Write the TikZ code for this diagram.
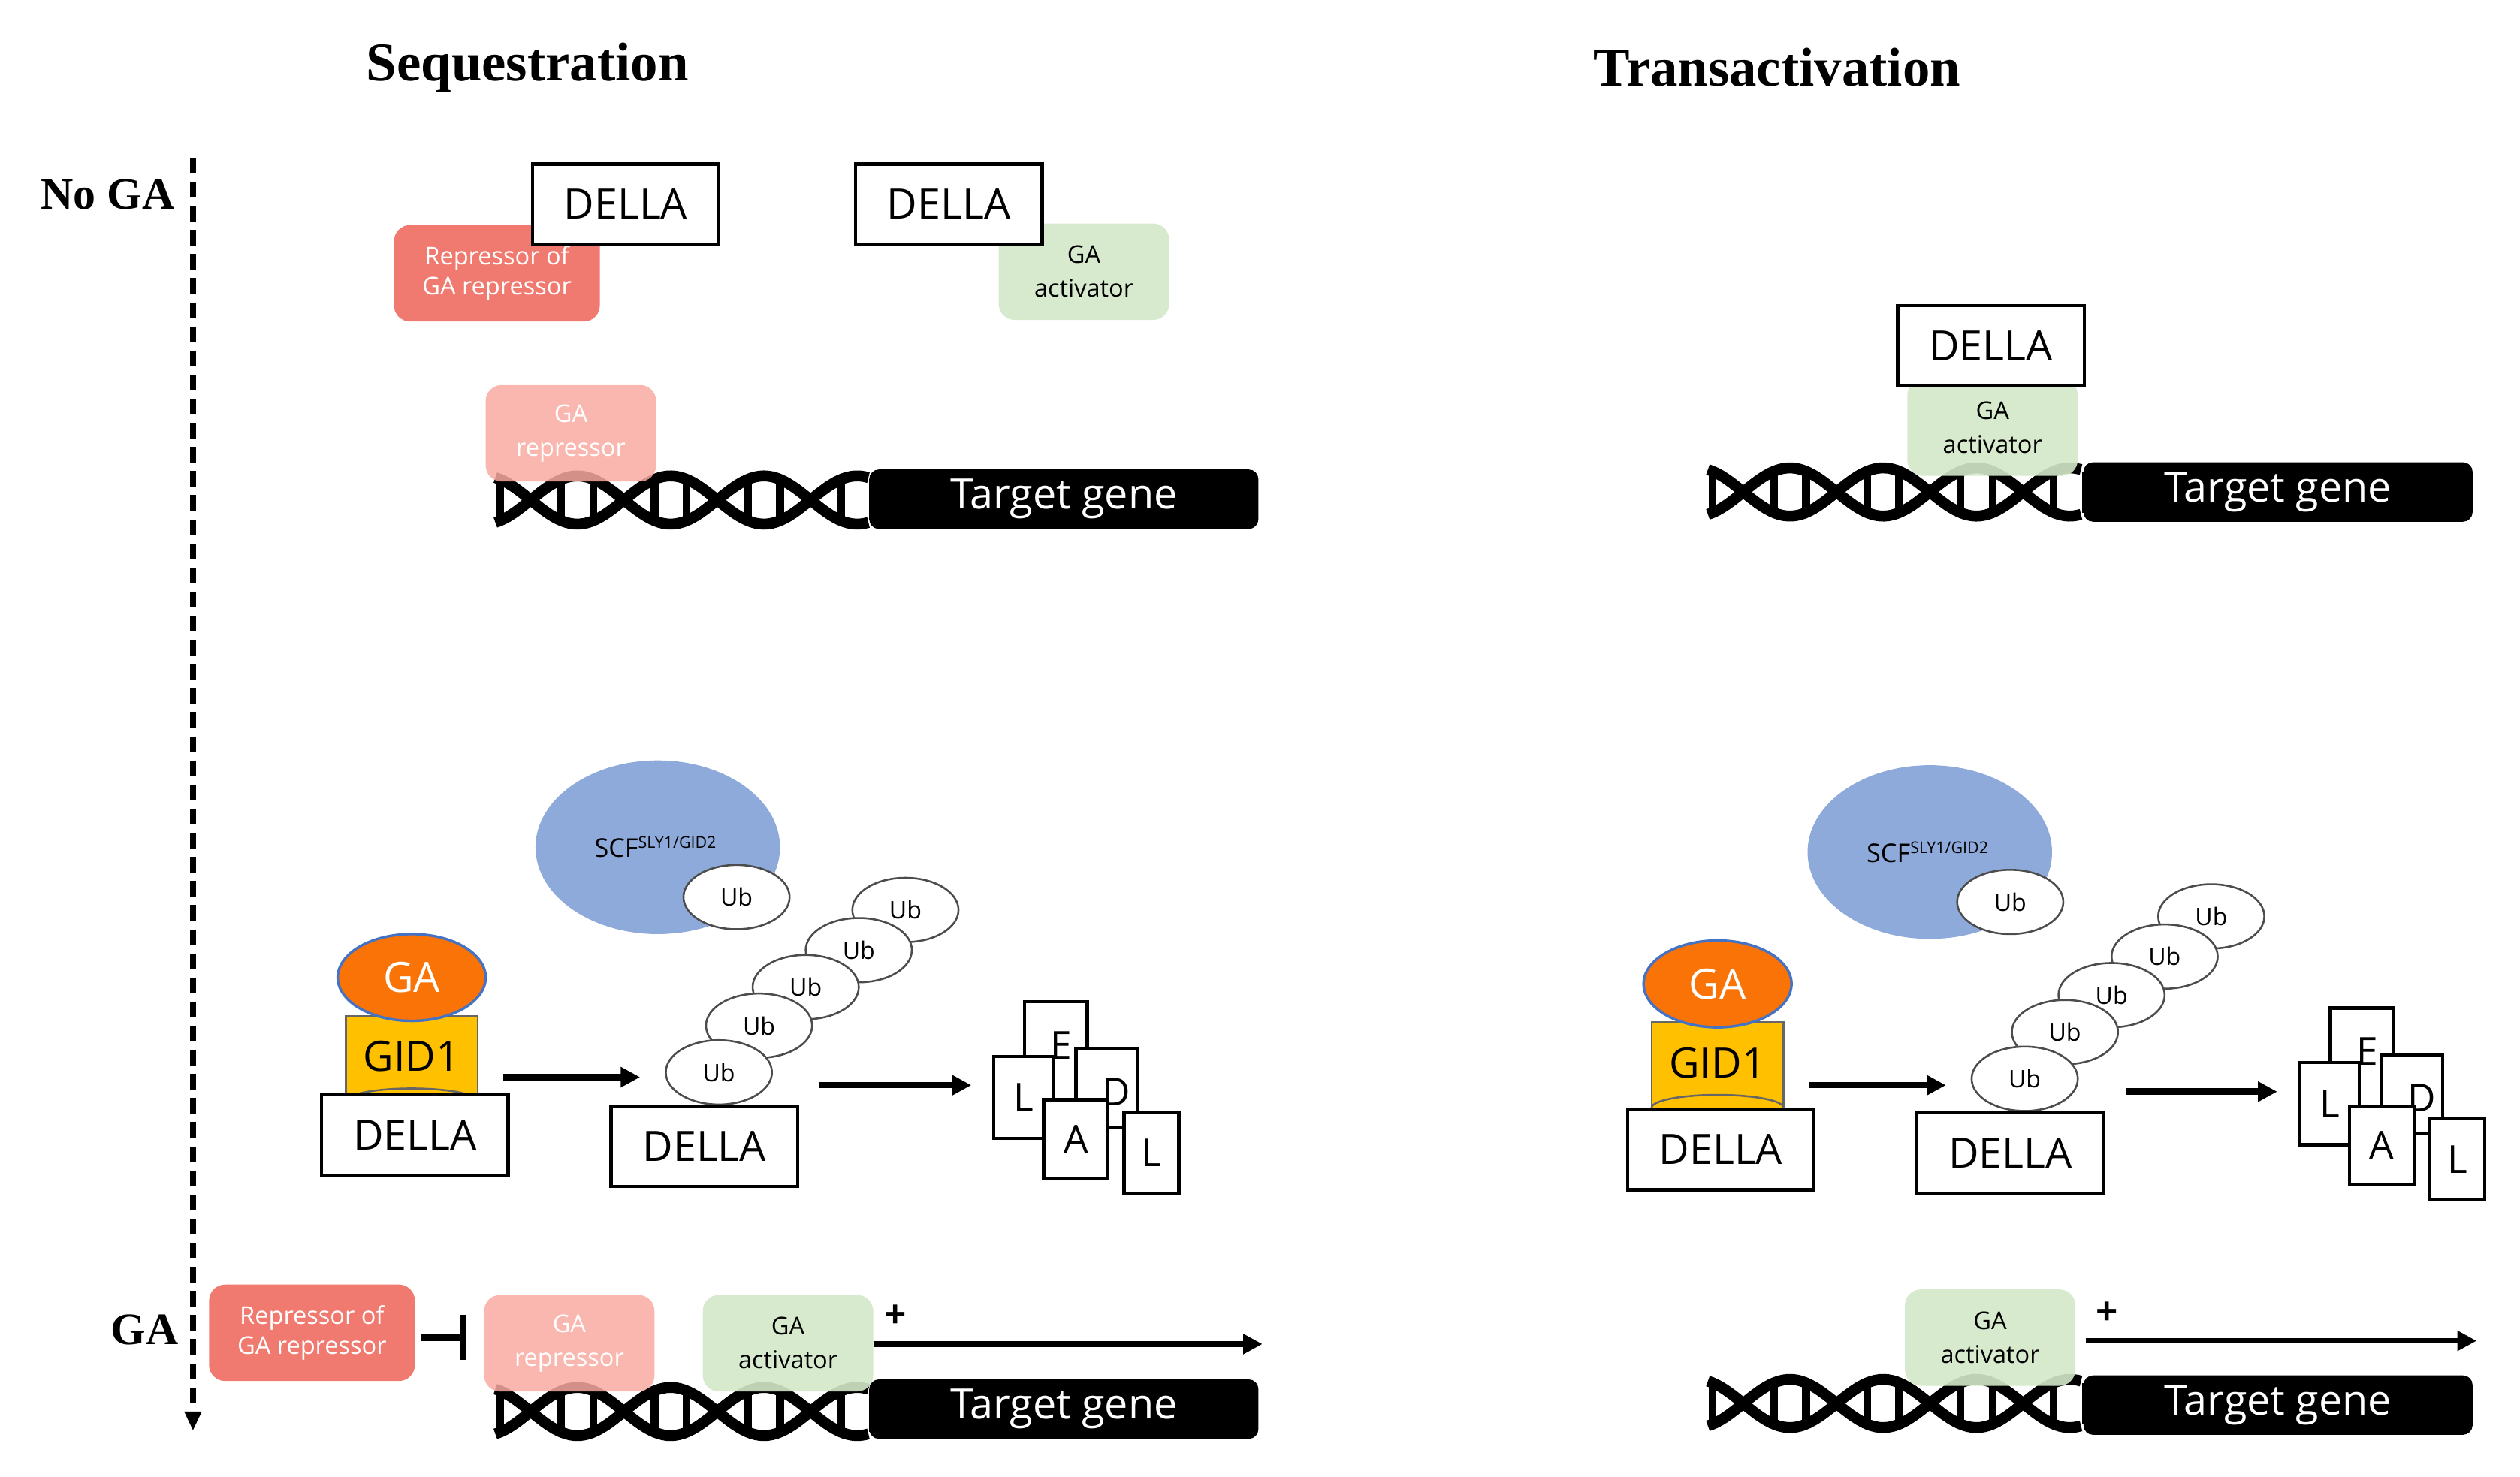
\documentclass[tikz,border=0pt]{standalone}
\usepackage{fontspec}
\setmainfont{Open Sans}
\newfontfamily\titlefont{Liberation Serif}
\usetikzlibrary{arrows.meta,shapes.geometric}
\definecolor{rdark}{HTML}{F07A70}
\definecolor{rlight}{HTML}{F8AAA1}
\definecolor{gact}{HTML}{D3E8C8}
\definecolor{scfb}{HTML}{8EAADB}
\definecolor{gaor}{HTML}{F97306}
\definecolor{gidy}{HTML}{FFC000}
\definecolor{gabl}{HTML}{4472C4}
\begin{document}
\begin{tikzpicture}[x=0.5pt,y=-0.5pt,
 della/.style={draw,line width=1pt,fill=white,minimum width=58pt,minimum height=25pt,inner sep=0pt,font=\fontsize{13}{13}\selectfont},
 rep/.style={fill=rdark,rounded corners=5pt,text=white,minimum width=64pt,minimum height=30pt,align=center,inner sep=0pt,font=\fontsize{7.6}{9.5}\selectfont},
 grep/.style={fill=rlight,fill opacity=0.85,text opacity=1,rounded corners=5pt,text=white,minimum width=53pt,minimum height=30pt,align=center,inner sep=0pt,font=\fontsize{7.6}{10.5}\selectfont},
 gact/.style={fill=gact,fill opacity=0.9,text opacity=1,rounded corners=5pt,minimum width=53pt,minimum height=30pt,align=center,inner sep=0pt,font=\fontsize{7.6}{10.5}\selectfont},
 gene/.style={fill=black,rounded corners=3pt,text=white,minimum width=121pt,minimum height=18.5pt,inner sep=0pt,font=\fontsize{13}{13}\selectfont},
 ub/.style={ellipse,draw=black!70,line width=0.6pt,fill=white,minimum width=33pt,minimum height=20pt,inner sep=0pt,font=\fontsize{7.5}{7.5}\selectfont},
 frag/.style={draw,line width=1pt,fill=white,inner sep=0pt,font=\fontsize{12}{12}\selectfont},
 arr/.style={line width=2pt,-{Triangle[length=6pt,width=6pt]}},
 title/.style={font=\titlefont\bfseries\fontsize{17}{17}\selectfont},
]
\useasboundingbox (0,0) rectangle (1567,918.7);
\newcommand{\mydna}[2]{%
 \begin{scope}[shift={(#1,#2)}]
 \draw[line width=3.4pt,domain=0:232,samples=90] plot (\x,{15*sin(3.1034*(\x-22))});
 \draw[line width=3.4pt,domain=0:232,samples=90] plot (\x,{-15*sin(3.1034*(\x-22))});
 \foreach \k in {0,1,2,3}{
  \foreach \d in {19,39}{
   \pgfmathsetmacro{\a}{15*abs(sin(3.1034*\d))}
   \draw[line width=2.4pt] (22+58*\k+\d,-\a) -- (22+58*\k+\d,\a);}}
 \draw[line width=2.4pt] (3,-14) -- (3,14);
 \end{scope}}
\newcommand{\myfrag}[3]{%
 \begin{scope}[shift={(#1,#2)}]
 \node[frag,minimum width=19.5pt,minimum height=34pt,anchor=north west] (#3e) at (636,622) {};
 \node[frag,minimum width=18.5pt,minimum height=25.5pt,anchor=north west] (#3l) at (617,656) {L};
 \node[frag,minimum width=19pt,minimum height=24.5pt,anchor=north west] (#3d) at (668,651) {};
 \node[font=\fontsize{12}{12}\selectfont] at (694,679) {D};
 \node[font=\fontsize{12}{12}\selectfont] (#3et) at (660,650) {E};
 \node[frag,minimum width=20pt,minimum height=24.5pt,anchor=north west] (#3a) at (648,683) {A};
 \node[frag,minimum width=17pt,minimum height=25pt,anchor=north west] (#3l2) at (698,691) {L};
 \end{scope}}
% titles
\node[title] (t1) at (328,42) {Sequestration};
\node[title] (t2) at (1105,42) {Transactivation};
\node[title,font=\titlefont\bfseries\fontsize{14}{14}\selectfont] (noga) at (67,121) {No GA};
\node[title,font=\titlefont\bfseries\fontsize{14}{14}\selectfont] (ga) at (90,827) {GA};
\coordinate (tl) at (120,98); \coordinate (bl) at (120,890);
\draw[line width=2pt,dash pattern=on 5pt off 2.5pt,-{Triangle[length=6pt,width=5pt]}] (tl) -- (bl);
% ===== left top
\node[rep] (r1) at (309,170) {Repressor of\\GA repressor};
\node[della] (d1) at (389,127) {DELLA};
\node[gact] (a1) at (674,169) {GA\\activator};
\node[della] (d2) at (590,127) {DELLA};
\mydna{308}{311}
\node[gene] (g1) at (661.5,310.5) {Target gene};
\node[grep] (gr1) at (355,269.5) {GA\\repressor};
% ===== left middle
\node[ellipse,fill=scfb,minimum width=76pt,minimum height=54pt,inner sep=0pt] (scf1) at (409,527) {};
\node[font=\fontsize{8}{8}\selectfont] at (408,527) {SCF\textsuperscript{\fontsize{5}{5}\selectfont SLY1/GID2}};
\node[ub] (u1) at (458,558) {Ub};
\node[ub] (u6) at (563,566) {Ub};
\node[ub] (u5) at (534,591) {Ub};
\node[ub] (u4) at (501,614) {Ub};
\node[ub] (u3) at (472,638) {Ub};
\node[ub] (u2) at (447,667) {Ub};
\node[della] (d3) at (438,713) {DELLA};
\node[draw=black!60,line width=0.6pt,fill=gidy,minimum width=41pt,minimum height=27pt,inner sep=0pt] (gid1) at (256,659) {};
\draw[draw=black!60,line width=0.6pt,fill=gidy] (215,685) arc[start angle=180,end angle=360,x radius=41,y radius=8];
\node[font=\fontsize{13}{13}\selectfont] at (256,657) {GID1};
\node[ellipse,draw=gabl,line width=0.8pt,fill=gaor,minimum width=46pt,minimum height=27pt,inner sep=0pt,text=white,font=\fontsize{13}{13}\selectfont] (ga1) at (256,608) {GA};
\node[della] (d4) at (258,706) {DELLA};
\coordinate (a1s) at (313,670); \coordinate (a1e) at (398,670);
\draw[arr] (a1s) -- (a1e);
\coordinate (a2s) at (509,675); \coordinate (a2e) at (604,675);
\draw[arr] (a2s) -- (a2e);
\myfrag{0}{0}{fa}
% ===== left bottom
\node[rep] (r2) at (194,829) {Repressor of\\GA repressor};
\coordinate (ihs) at (262,832); \coordinate (ihe) at (290,832);
\draw[line width=2pt,-{Bar[width=14pt]}] (ihs) -- (ihe);
\mydna{308}{878}
\node[gene] (g2) at (661.5,876.5) {Target gene};
\node[grep] (gr2) at (354,835.5) {GA\\repressor};
\node[gact] (ac2) at (490,835.5) {GA\\activator};
\coordinate (p1s) at (543,836); \coordinate (p1e) at (785,836);
\draw[arr,line width=1.8pt] (p1s) -- (p1e);
\node[font=\bfseries\fontsize{12}{12}\selectfont] (plus1) at (557,819) {+};
% ===== right top
\mydna{1062}{306}
\node[gene] (g3) at (1416.5,306) {Target gene};
\node[gact] (a3) at (1239,266) {GA\\activator};
\node[della] (d5) at (1238,215) {DELLA};
% ===== right middle
\node[ellipse,fill=scfb,minimum width=76pt,minimum height=54pt,inner sep=0pt] (scf2) at (1200,530) {};
\node[font=\fontsize{8}{8}\selectfont] at (1199,530) {SCF\textsuperscript{\fontsize{5}{5}\selectfont SLY1/GID2}};
\node[ub] (v1) at (1250,561) {Ub};
\node[ub] (v6) at (1375,570) {Ub};
\node[ub] (v5) at (1346,595) {Ub};
\node[ub] (v4) at (1313,619) {Ub};
\node[ub] (v3) at (1284,642) {Ub};
\node[ub] (v2) at (1259,671) {Ub};
\node[della] (d6) at (1250,717) {DELLA};
\node[draw=black!60,line width=0.6pt,fill=gidy,minimum width=41pt,minimum height=27pt,inner sep=0pt] (gid2) at (1068,663) {};
\draw[draw=black!60,line width=0.6pt,fill=gidy] (1027,689) arc[start angle=180,end angle=360,x radius=41,y radius=8];
\node[font=\fontsize{13}{13}\selectfont] at (1068,661) {GID1};
\node[ellipse,draw=gabl,line width=0.8pt,fill=gaor,minimum width=46pt,minimum height=27pt,inner sep=0pt,text=white,font=\fontsize{13}{13}\selectfont] (ga2) at (1068,612) {GA};
\node[della] (d7) at (1070,715) {DELLA};
\coordinate (b1s) at (1125,675); \coordinate (b1e) at (1210,675);
\draw[arr] (b1s) -- (b1e);
\coordinate (b2s) at (1322,679); \coordinate (b2e) at (1416,679);
\draw[arr] (b2s) -- (b2e);
\myfrag{812}{4}{fb}
% ===== right bottom
\mydna{1062}{873}
\node[gene] (g4) at (1416.5,874) {Target gene};
\node[gact] (a4) at (1237.5,832) {GA\\activator};
\coordinate (p2s) at (1297,834); \coordinate (p2e) at (1540,834);
\draw[arr,line width=1.8pt] (p2s) -- (p2e);
\node[font=\bfseries\fontsize{12}{12}\selectfont] (plus2) at (1310,817) {+};
\end{tikzpicture}
\end{document}
